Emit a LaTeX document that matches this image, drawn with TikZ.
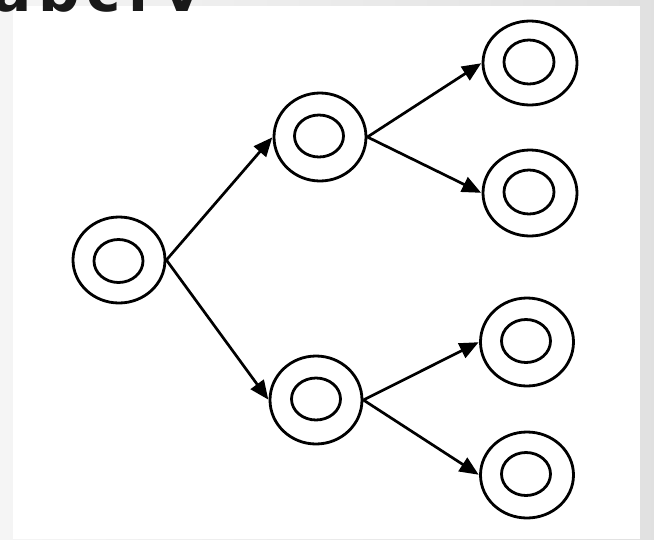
\documentclass[tikz,border=0pt]{standalone}
\usepackage{fontspec}
\newfontfamily\hdfont{DejaVu Sans}
\usetikzlibrary{arrows.meta,shapes.geometric}
\begin{document}
\begin{tikzpicture}[x=1pt,y=-1pt,
  outerst/.style={draw=black, line width=2.8pt, ellipse, inner sep=0pt, minimum width=92pt, minimum height=86pt},
  innerst/.style={draw=black, line width=2.8pt, ellipse, inner sep=0pt, minimum width=49pt, minimum height=43pt},
  arr/.style={draw=black, line width=2.7pt, -{Triangle[length=19pt,width=16pt]}, shorten >=0.5pt}]
\useasboundingbox (0,0) rectangle (654,539);
\clip (0,0) rectangle (654,539);
% background
\shade[left color=gray!8, right color=gray!24] (0,0) rectangle (654,539);
\fill[white] (12.5,5.5) rectangle (639.5,539);
% partially visible title
\node[anchor=base west, inner sep=0pt, text=black!90,
      font=\hdfont\bfseries\fontsize{58}{60}\selectfont\addfontfeature{LetterSpace=12}] (title) at (-8,11) {abcrv};
% states
\node[outerst] (r) at (119,260) {};
\node[innerst] (ri) at (118.5,261) {};
\node[outerst, minimum height=88pt] (a) at (320,137) {};
\node[innerst, minimum height=42pt] (ai) at (319,136) {};
\node[outerst, minimum height=88pt] (b) at (316,400) {};
\node[innerst, minimum height=42pt] (bi) at (316,399) {};
\node[outerst, minimum width=94pt, minimum height=84pt] (a1) at (530,63) {};
\node[innerst, minimum width=50pt, minimum height=44pt] (a1i) at (529,62) {};
\node[outerst, minimum width=94pt, minimum height=86pt] (a2) at (530,193) {};
\node[innerst, minimum width=50pt, minimum height=44pt] (a2i) at (529,192) {};
\node[outerst, minimum width=93pt, minimum height=88pt] (b1) at (527,342) {};
\node[innerst, minimum width=49pt, minimum height=43pt] (b1i) at (526,341) {};
\node[outerst, minimum width=93pt, minimum height=86pt] (b2) at (527,475) {};
\node[innerst, minimum width=49pt, minimum height=43pt] (b2i) at (526,474) {};
% transitions
\draw[arr] (r.east) -- (a.west);
\draw[arr] (r.east) -- (b.west);
\draw[arr] (a.east) -- (a1.west);
\draw[arr] (a.east) -- (a2.west);
\draw[arr] (b.east) -- (b1.west);
\draw[arr] (b.east) -- (b2.west);
\end{tikzpicture}
\end{document}
